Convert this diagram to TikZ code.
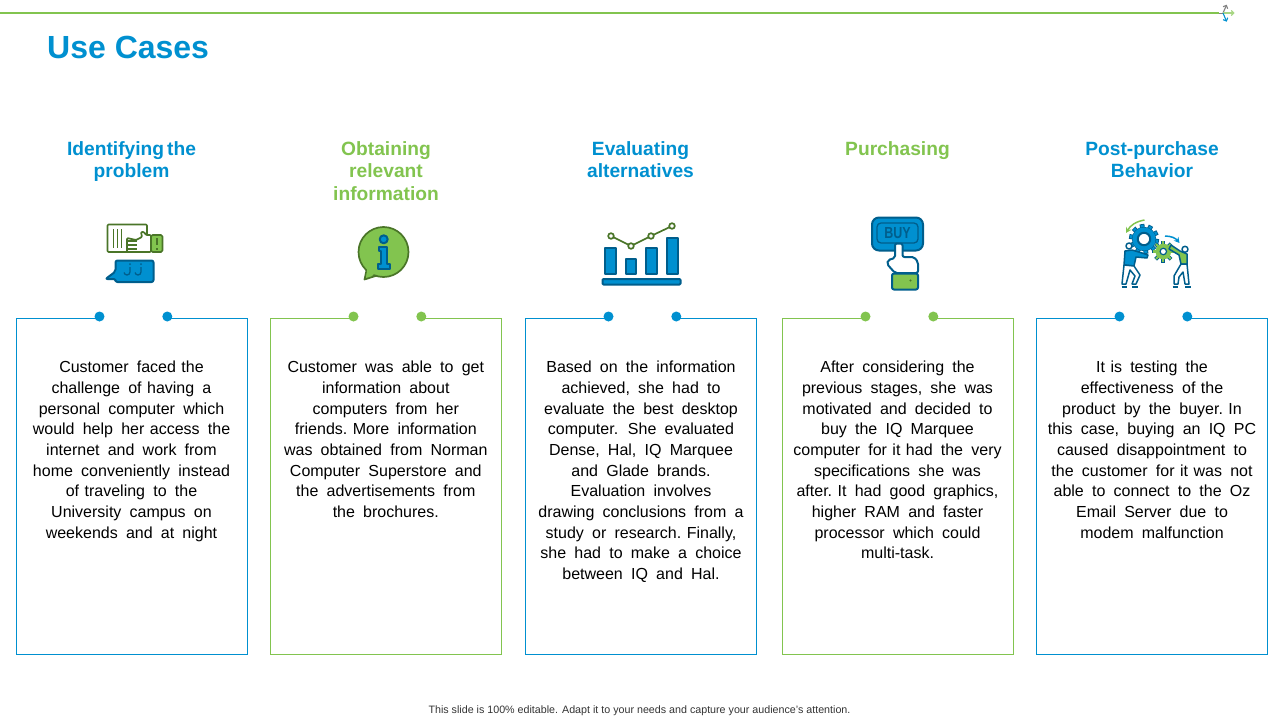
\documentclass[tikz,border=0pt]{standalone}
\usepackage{fontspec}
\usepackage{graphicx}
\usetikzlibrary{arrows.meta}
\setmainfont{Liberation Sans}
\newfontfamily\bodyfont[WordSpace=1.85]{Liberation Sans}
\definecolor{ublue}{HTML}{0090D0}
\definecolor{ugreen}{HTML}{82C44F}
\definecolor{dblue}{HTML}{005E8C}
\definecolor{dgreen}{HTML}{4A7528}
\newcommand{\tg}{\hspace{5.5pt}}
\tikzset{
 heading/.style={font=\fontsize{19.2}{22.6}\selectfont\bfseries,align=center,anchor=north},
 bodytext/.style={font=\bodyfont\fontsize{16}{20.7}\selectfont,align=center,anchor=north,text=black},
 pin/.style={circle,inner sep=0pt,minimum size=10pt},
 bluestroke/.style={draw=dblue,line width=2pt,line join=round},
 greenstroke/.style={draw=dgreen,line width=1.7pt,line join=round},
 tinytip/.style={line width=1.1pt,-{Straight Barb[length=2.5pt,width=5pt]}},
}
\begin{document}
\begin{tikzpicture}[x=1pt,y=-1pt]
\useasboundingbox (0,0) rectangle (1280,720);
\draw[ugreen,line width=1.8pt] (0,13) -- (1219,13) coordinate (rulend);
\coordinate (hub) at (1223,13);
\draw[gray,line width=1pt] (rulend) -- (hub);
\draw[gray,tinytip] (hub) -- (1226.7,4.7);
\draw[ugreen!70,tinytip] (hub) -- (1234.5,13);
\draw[ublue,tinytip] (hub) -- (1226.7,21.7);
\node[anchor=west,text=ublue,font=\fontsize{32}{36}\selectfont\bfseries,inner sep=0pt] (title) at (47,47.5) {Use Cases};

\foreach \n/\x/\c in {one/16/ublue,two/270/ugreen,three/525/ublue,four/782/ugreen,five/1036/ublue} {
  \node[pin,fill=\c] (\n l) at (\x+83.5,316.5) {};
  \node[pin,fill=\c] (\n r) at (\x+151.3,316.5) {};
  \coordinate (\n nw) at (\x+0.5,318.5);
  \coordinate (\n se) at (\x+231.5,654.5);
  \draw[\c,line width=1pt] (\n l.center |- \n nw) -- (\n nw) |- (\n se) |- (\n r.center |- \n nw);
}

\node[heading,text=ublue] (headone) at (131.5,137.8) {Identifying\hspace{3pt}the\\problem};
\node[heading,text=ugreen] (headtwo) at (386,137.8) {Obtaining\\relevant\\information};
\node[heading,text=ublue] (headthree) at (640.5,137.8) {Evaluating\\alternatives};
\node[heading,text=ugreen] (headfour) at (897.5,137.8) {Purchasing};
\node[heading,text=ublue] (headfive) at (1152,137.8) {Post-purchase\\Behavior};

\node[bodytext] (textone) at (131.5,357.5) {Customer faced\tg the\\challenge of\tg having a\\personal computer which\\would help her\tg access the\\internet and work from\\home conveniently instead\\of\tg traveling to the\\University campus on\\weekends and at night};
\node[bodytext] (texttwo) at (385.8,357.5) {Customer was able to get\\information about\\computers from her\\friends.\tg More information\\was obtained from Norman\\Computer Superstore and\\the advertisements from\\the brochures.};
\node[bodytext] (textthree) at (641,357.5) {Based on the information\\achieved, she had to\\evaluate the best desktop\\computer. She evaluated\\Dense, Hal, IQ Marquee\\and Glade brands.\\Evaluation involves\\drawing conclusions from a\\study or research.\tg Finally,\\she had to make a choice\\between IQ and Hal.};
\node[bodytext] (textfour) at (897.5,357.5) {After considering the\\previous stages, she was\\motivated and decided to\\buy the IQ Marquee\\computer for\tg it\tg had the very\\specifications she was\\after.\tg It had good graphics,\\higher RAM and faster\\processor which could\\multi-task.};
\node[bodytext] (textfive) at (1152,357.5) {It\tg is testing the\\effectiveness of\tg the\\product by the buyer.\tg In\\this case, buying an IQ PC\\caused disappointment to\\the customer for\tg it\tg was not\\able to connect to the Oz\\Email Server due to\\modem malfunction};

\node[font=\fontsize{10.7}{12}\selectfont,text=black!80] (footer) at (639.5,711) {This slide is 100\% editable.  Adapt it to your needs and capture your audience's attention.};

% card and hand
\draw[greenstroke,fill=white,rounded corners=1pt] (107.5,224.5) rectangle (147,252);
\foreach \x in {113,117,121} \draw[dgreen,line width=1pt] (\x,229) -- (\x,248);
\draw[greenstroke,fill=white,rounded corners=1pt] (151,235) -- (146,235) -- (144,232) -- (141,232) -- (142,237) -- (136,240) -- (127,238) -- (127,252) -- (132,252) -- (151,252) -- cycle;
\foreach \y in {241,245,249} \draw[dgreen,line width=1.1pt] (127,\y) -- (137,\y);
\draw[greenstroke,fill=ugreen,rounded corners=1.5pt] (151,235) rectangle (162.5,252);
\draw[dgreen,line width=1.2pt] (157,238) -- (157,245) (157,248) -- (157,249.5);
% speech bubble
\draw[bluestroke,fill=ublue,rounded corners=2pt] (115.5,260.5) -- (153.5,260.5) -- (153.5,282) -- (115.5,282) -- (115.5,279) -- (105.5,279) -- (115.5,271.5) -- cycle;
\foreach \x in {129,140} {
  \draw[dblue,line width=1.3pt] (\x+1,267) -- (\x+1,272) arc (0:170:3);
  \fill[dblue] (\x+1,264) circle (1);
}
% info bubble
\draw[greenstroke,fill=ugreen] (367,268) -- (364.5,279.5) -- (377,275.5) -- cycle;
\draw[greenstroke,fill=ugreen] (383.5,252) circle (25);
\fill[ugreen] (367.5,267) -- (366.3,277) -- (377,273.3) -- (378,268) -- cycle;
\draw[bluestroke,fill=ublue] (383.7,239.3) circle (4);
\draw[bluestroke,fill=ublue] (379,246.5) -- (387,246.5) -- (387,264) -- (390,264) -- (390,268.5) -- (378,268.5) -- (378,264) -- (381,264) -- (381,250.5) -- (379,250.5) -- cycle;
% bar chart
\foreach \x/\t/\w in {604.5/248/11,626/259/10,646/248/11,667/238/11}
  \draw[bluestroke,fill=ublue] (\x,\t) rectangle (\x+\w,274);
\draw[bluestroke,fill=ublue,rounded corners=1pt] (602.5,279) rectangle (680.5,284.5);
\draw[greenstroke] (611,236) -- (631,246) -- (651,236) -- (672,226);
\foreach \x/\y in {611/236,631/246,651/236,672/226}
  \draw[greenstroke,fill=white] (\x,\y) circle (2.8);
% buy button
\draw[bluestroke,fill=ublue,rounded corners=7pt] (872,217.5) rectangle (923,250.5);
\draw[dblue,line width=1.3pt,rounded corners=4pt] (877,223) rectangle (918,243);
\node[text=dblue,font=\fontsize{16}{16}\selectfont\bfseries,inner sep=0pt] (buy) at (897.5,233) {\scalebox{0.78}[1]{BUY}};
\draw[bluestroke,fill=white,rounded corners=2pt] (895,273) -- (887,264) -- (888,260) -- (895,258) -- (895,243.5) -- (902.5,243.5) -- (902.5,257) -- (914,257) -- (918,262) -- (918,273) -- cycle;
\draw[bluestroke,fill=ugreen,rounded corners=2pt] (892,273.5) rectangle (918,289.5);
\fill[dgreen] (910.5,280.5) circle (1.2);
% gears
\foreach \a in {0,36,...,324} \draw[dblue,line width=4.8pt] (1144,239) ++(\a+10:10) -- ++(\a+10:5);
\foreach \a in {0,36,...,324} \draw[ublue,line width=3pt] (1144,239) ++(\a+10:10) -- ++(\a+10:4.2);
\draw[draw=dblue,line width=1.2pt,fill=ublue] (1144,239) circle (11.5);
\fill[ublue] (1144,239) circle (11.6);
\draw[bluestroke,fill=white] (1144,239) circle (6.2);
\foreach \a in {0,45,...,315} \draw[dblue,line width=3.8pt] (1163.3,251.5) ++(\a:7) -- ++(\a:4);
\foreach \a in {0,45,...,315} \draw[ugreen,line width=2.2pt] (1163.3,251.5) ++(\a:6) -- ++(\a:4.4);
\fill[ugreen] (1163.3,251.5) circle (7.8);
\draw[draw=dblue,line width=1.2pt,fill=white] (1163.3,251.5) circle (3.2);
\draw[ugreen,line width=1.5pt,-{Stealth[length=5.5pt,width=6pt]}] (1144.5,220) to[bend right=25] (1126,233);
\draw[ublue,line width=1.5pt,-{Stealth[length=5.5pt,width=6pt]}] (1165,236) to[bend left=25] (1179.5,243);
% people
\draw[bluestroke,line width=1.5pt,fill=white] (1129,246) circle (3);
\draw[bluestroke,line width=1.5pt,fill=ublue] (1125,251) -- (1132,250) -- (1142,253) -- (1148,255) -- (1147,258) -- (1136,257) -- (1134,266) -- (1124,265) -- cycle;
\draw[bluestroke,line width=1.5pt,fill=white] (1124,265) -- (1122,284) -- (1126,284) -- (1130,270) -- (1135,276) -- (1132,284) -- (1136,284) -- (1140,275) -- (1134,266) -- cycle;
\draw[dblue,line width=1.6pt] (1121.7,287) -- (1126.7,287) (1132,287) -- (1137.7,287);
\draw[bluestroke,line width=1.5pt,fill=white] (1185,249.3) circle (3);
\draw[draw=dblue,line width=1.5pt,fill=ugreen,line join=round] (1171,245) -- (1180,251) -- (1187,254) -- (1187,264) -- (1181,264) -- (1179,255) -- (1169,249) -- cycle;
\draw[bluestroke,line width=1.5pt,fill=white] (1181,264) -- (1174,276) -- (1174,284) -- (1178,284) -- (1179,277) -- (1183,272) -- (1185,284) -- (1189,284) -- (1187,264) -- cycle;
\draw[dblue,line width=1.6pt] (1172.7,287) -- (1177.7,287) (1185,287) -- (1190.7,287);
\end{tikzpicture}
\end{document}
